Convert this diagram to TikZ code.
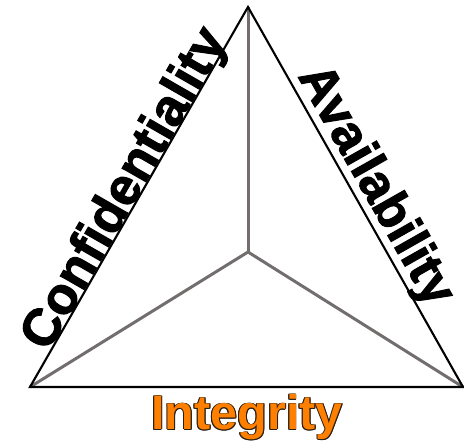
\documentclass[tikz,border=0pt]{standalone}
\usepackage{fontspec}
\setmainfont{Liberation Sans}
\newfontfamily\heavyfont[FakeBold=2]{Liberation Sans Bold}
\usepackage{xcolor}
\definecolor{edgegray}{RGB}{115,110,110}
\definecolor{intorange}{RGB}{255,128,0}
\definecolor{outl}{RGB}{40,30,20}
\newcommand{\oc}[3]{\rlap{\hspace*{#1}\raisebox{#2}{\textcolor{outl}{#3}}}}
\newcommand{\outlinedtext}[1]{%
  \oc{0.9pt}{0pt}{#1}\oc{-0.9pt}{0pt}{#1}\oc{0pt}{0.9pt}{#1}\oc{0pt}{-0.9pt}{#1}%
  \oc{0.65pt}{0.65pt}{#1}\oc{-0.65pt}{0.65pt}{#1}\oc{0.65pt}{-0.65pt}{#1}\oc{-0.65pt}{-0.65pt}{#1}%
  \textcolor{intorange}{#1}}
\begin{document}
\begin{tikzpicture}[x=1pt,y=1pt,
  edgeline/.style={draw=black,line width=2.1pt,line join=miter},
  spoke/.style={draw=edgegray,line width=3pt},
  sidelabel/.style={font=\fontsize{52}{52}\heavyfont,inner sep=0pt,anchor=base,sloped},
  baselabel/.style={font=\fontsize{48.5}{48}\selectfont\bfseries,inner sep=0pt,anchor=base}]
\useasboundingbox (0,0) rectangle (464,442);
\coordinate (T) at (248,435);
\coordinate (L) at (30,55);
\coordinate (R) at (463,55);
\coordinate (C) at (248,190);
\draw[spoke] (C) -- (T);
\draw[spoke] (C) -- (L);
\draw[spoke] (C) -- (R);
\draw[edgeline] (L) -- (T) -- (R) -- cycle;
\path (L) -- (T) node[sidelabel,pos=0.5,yshift=1.5pt] (conf) {Confidentiality};
\path (T) -- (R) node[sidelabel,font=\fontsize{51}{51}\heavyfont,pos=0.5,yshift=9pt] (avail) {Availability};
\node[baselabel] (integ) at (247,12) {\outlinedtext{Integrity}};
\end{tikzpicture}
\end{document}
